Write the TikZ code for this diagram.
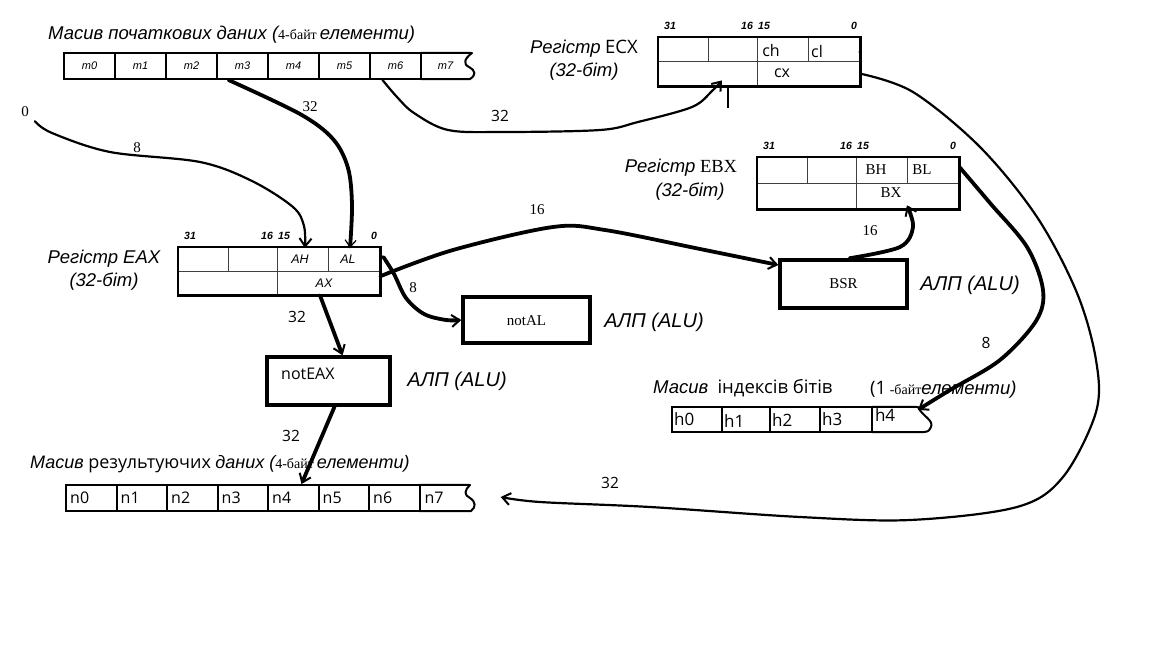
\documentclass[tikz,border=0pt]{standalone}
\usepackage{fontspec}
\setmainfont{Liberation Serif}
\newfontfamily\arf{Liberation Sans}
\newfontfamily\segf{Open Sans}
\usetikzlibrary{arrows.meta}
\tikzset{
  regbox/.style={minimum width=202pt, minimum height=#1, inner sep=0pt},
  regin/.style={line width=0.8pt, draw=black!75},
  regout/.style={line width=2.6pt},
  bitn/.style={inner sep=0pt, font=\arf\bfseries\itshape\fontsize{10.5}{12}\selectfont},
  cellm/.style={draw, line width=2pt, minimum width=51pt, minimum height=26pt, inner sep=0pt, font=\arf\itshape\fontsize{11}{13}\selectfont},
  celln/.style={draw, line width=2pt, minimum width=50.5pt, minimum height=26pt, inner sep=0pt},
  cellh/.style={draw, line width=2pt, minimum height=25pt, inner sep=0pt},
  opencell/.style={minimum height=26pt, inner sep=0pt},
  seglab/.style={inner sep=0pt, font=\segf\fontsize{16}{18}\selectfont},
  serlab/.style={inner sep=0pt, font=\rmfamily\fontsize{15}{17}\selectfont},
  itlab/.style={inner sep=0pt, font=\arf\itshape\fontsize{12.5}{14}\selectfont},
  bigit/.style={inner sep=0pt, font=\arf\itshape\fontsize{18.5}{21}\selectfont},
  alulab/.style={inner sep=0pt, font=\arf\itshape\fontsize{20}{22}\selectfont},
  alubox/.style={draw, line width=3.5pt, inner sep=0pt},
  numser/.style={inner sep=0pt, font=\rmfamily\fontsize{15}{17}\selectfont},
  numsan/.style={inner sep=0pt, font=\segf\fontsize{15.5}{17}\selectfont},
  wire/.style={line width=2.2pt, line cap=round, line join=round},
  thickwire/.style={line width=3.8pt, line cap=round, line join=round},
  barb/.style={-{Straight Barb[line width=2pt,length=8pt,width=12pt]}},
  thinbarb/.style={-{Straight Barb[line width=1.2pt,length=7pt,width=11pt]}},
  title/.style={inner sep=0pt, anchor=west, font=\fontsize{18.5}{21}\selectfont}
}
\newcommand\mkreg[4]{%
  \node[regbox=#4, anchor=north west] (#1) at (#2,#3) {};
  \draw[regin] (#1.west) -- (#1.east);
  \draw[regin] ([xshift=50pt]#1.north west) -- ([xshift=50pt]#1.west);
  \draw[regin] ([xshift=99pt]#1.north west) -- ([xshift=99pt]#1.south west);
  \draw[regin] ([xshift=150pt]#1.north west) -- ([xshift=150pt]#1.west);
  \draw[regout] (#1.north west) rectangle (#1.south east);
  \node[bitn] (#1-31) at ([xshift=12pt,yshift=11pt]#1.north west) {31};
  \node[bitn] (#1-16) at ([xshift=89pt,yshift=11pt]#1.north west) {16};
  \node[bitn] (#1-15) at ([xshift=106pt,yshift=11pt]#1.north west) {15};
  \node[bitn] (#1-0) at ([xshift=196pt,yshift=11pt]#1.north west) {0};
}
\begin{document}
\begin{tikzpicture}[x=1pt,y=-1pt]
\useasboundingbox[fill=white] (0,0) rectangle (1152,648);

% ---------- source array ----------
\node[title] (srctitle) at (48,35) {{\arf\itshape Масив початкових даних (}{\fontsize{14}{16}\selectfont 4-байт}\,{\arf\itshape елементи)}};
\foreach \i in {0,...,6} \node[cellm] (m\i) at ({89.5+51*\i},66) {m\i};
\node[opencell, minimum width=49pt, font=\arf\itshape\fontsize{11}{13}\selectfont] (m7) at (445.5,66) {m7};
\draw[line width=2pt, line join=round] (m7.north west) -- (472,53) .. controls (464,59) and (463,64) .. (469,67) .. controls (476,71) and (476,75) .. (470,79) -- (m7.south west);

% ---------- registers ----------
\mkreg{eax}{178}{247}{48pt}
\mkreg{ecx}{658}{37}{49pt}
\mkreg{ebx}{757}{157}{52pt}

\node[itlab] (ah) at (300,259) {AH};
\node[itlab] (al) at (348,259) {AL};
\node[itlab] (ax) at (324,283) {AX};
\node[bigit] (eaxname) at (104,259) {Регістр EAX};
\node[bigit] (eaxbits) at (104,282) {(32-біт)};

\node[seglab] (ch) at (771,50) {ch};
\node[seglab] (cl) at (817,51) {cl};
\node[seglab] (cx) at (782,73) {cx};
\node[inner sep=0pt, font=\fontsize{18.5}{21}\selectfont] (ecxname) at (584,49) {{\arf\itshape Регістр} {\segf ECX}};
\node[bigit] (ecxbits) at (584,72) {(32-біт)};
\fill (860,52) circle (1.6);

\node[serlab] (bh) at (876,170) {BH};
\node[serlab] (bl) at (922,170) {BL};
\node[serlab] (bx) at (891,193) {BX};
\node[inner sep=0pt, font=\fontsize{18.5}{21}\selectfont] (ebxname) at (681,168) {{\arf\itshape Регістр} {\rmfamily EBX}};
\node[bigit] (ebxbits) at (690,192) {(32-біт)};

% ---------- ALU boxes ----------
\node[alubox, minimum width=127pt, minimum height=46pt] (notal) at (526.5,320) {};
\node[serlab] (notaltxt) at (526.5,321) {notAL};
\node[alulab] (alu1) at (654,322) {АЛП (ALU)};

\node[alubox, minimum width=123pt, minimum height=48pt] (noteax) at (328.5,381) {};
\node[seglab, anchor=west] (noteaxtxt) at (281,374) {notEAX};
\node[alulab] (alu2) at (457,381) {АЛП (ALU)};

\node[alubox, minimum width=127pt, minimum height=48pt] (bsr) at (843.5,284) {};
\node[serlab] (bsrtxt) at (843.5,284) {BSR};
\node[alulab] (alu3) at (970,285) {АЛП (ALU)};

% ---------- bit index array ----------
\node[title] (bittitle) at (653,388) {{\arf\itshape Масив}\ \ {\segf індексів бітів}};
\node[title] (bittitle2) at (870,390) {{\segf (1}{\fontsize{14}{16}\selectfont\ -байт}{\arf\itshape елементи)}};
\node[cellh, minimum width=50pt] (h0) at (697,419.5) {};
\node[cellh, minimum width=48pt] (h1) at (746,419.5) {};
\node[cellh, minimum width=50pt] (h2) at (795,419.5) {};
\node[cellh, minimum width=52pt] (h3) at (846,419.5) {};
\node[opencell, minimum width=46pt, minimum height=25pt] (h4) at (895,419.5) {};
\draw[line width=2pt, line join=round] (h4.north west) -- (918,407) .. controls (922,416) and (934,420) .. (931,427) .. controls (929,432) and (926,432) .. (924,432) -- (h4.south west);
\node[seglab, anchor=west, font=\segf\fontsize{17}{19}\selectfont] at ([xshift=3pt]h0.west) {h0};
\node[seglab, anchor=west, font=\segf\fontsize{17}{19}\selectfont] at ([xshift=3pt,yshift=-2pt]h1.west) {h1};
\node[seglab, anchor=west, font=\segf\fontsize{17}{19}\selectfont] at ([xshift=3pt,yshift=-1pt]h2.west) {h2};
\node[seglab, anchor=west, font=\segf\fontsize{17}{19}\selectfont] at ([xshift=3pt]h3.west) {h3};
\node[seglab, anchor=west, font=\segf\fontsize{17}{19}\selectfont] at ([xshift=3pt,yshift=4pt]h4.west) {h4};

% ---------- result array ----------
\node[title, font=\fontsize{18}{21}\selectfont] (restitle) at (30,464) {{\arf\itshape Масив} {\segf результуючих} {\arf\itshape даних (}{\fontsize{14}{16}\selectfont 4-байт}\,{\arf\itshape елементи)}};
\foreach \i in {0,...,6} \node[celln] (n\i) at ({66+25.25+50.5*\i},498) {};
\node[opencell, minimum width=50pt] (n7) at (444.5,498) {};
\draw[line width=2pt, line join=round] (n7.north west) -- (470,485) .. controls (464,491) and (464,495) .. (470,498) .. controls (476,502) and (476,507) .. (471,511) -- (n7.south west);
\foreach \i in {0,...,7} \node[seglab, anchor=west] at ([xshift=5pt]n\i.west) {n\i};

% ---------- connectors ----------
\node[numser] (zero) at (25,112) {0};
\draw[wire, barb] plot[smooth, tension=0.55] coordinates {([xshift=6pt,yshift=-4pt]zero.south east) (52,133) (110,152) (200,162) (252,181) (293,207) (304,226) ([xshift=127pt,yshift=-1pt]eax.north west)};
\node[numser] (l8a) at (137,148) {8};

\draw[thickwire, thinbarb] plot[smooth, tension=0.55] coordinates {([xshift=-14pt]m3.south) (300,114) (333,139) (348,168) (352,205) ([xshift=172pt,yshift=-1pt]eax.north west)};
\node[numser] (l32a) at (310,107) {32};

\draw[wire, barb] plot[smooth, tension=0.55] coordinates {([xshift=-13pt]m6.south) (397,97) (414,113) (448,130) (503,132) (600,130) (638,122) (692,107) (712,91) ([xshift=64pt,yshift=6pt]ecx.south west)};
\draw[line width=2pt] ([xshift=70pt,yshift=-2pt]ecx.south west) -- ([xshift=70pt,yshift=-22pt]ecx.south west);
\node[numsan] (l32b) at (500,116) {32};

\draw[thickwire, barb] plot[smooth, tension=0.55] coordinates {([yshift=-5pt]eax.east) (453,250) (553,227) (605,230) (700,249) ([yshift=19pt]bsr.west)};
\node[numser] (l16a) at (537,210) {16};

\draw[thickwire, barb] plot[smooth, tension=0.55] coordinates {([xshift=3pt,yshift=-10pt]eax.north east) (394,274) (406,298) (424,314) (446,320) (notal.west)};
\node[numser] (l8b) at (413,288) {8};

\draw[thickwire, barb] ([xshift=142pt]eax.south west) -- ([xshift=14pt]noteax.north);
\node[numsan] (l32c) at (297,317) {32};

\draw[thickwire, barb] ([xshift=6pt]noteax.south) -- ([xshift=-18pt]n4.north east);
\node[numsan] (l32d) at (291,436) {32};

\draw[thickwire, barb] plot[smooth, tension=0.55] coordinates {([xshift=6pt]bsr.north) (900,247) (913,227) ([xshift=150pt,yshift=4pt]ebx.south west)};
\node[numser] (l16b) at (870,231) {16};

\draw[thickwire, barb] plot[smooth, tension=0.55] coordinates {([yshift=-10pt]ebx.north east) (990,203) (1027,247) (1043,290) (1036,321) (1000,360) (950,390) ([xshift=23pt,yshift=-3pt]h4.north)};
\node[numsan] (l8c) at (986,343) {8};

\draw[wire, barb] plot[smooth, tension=0.55] coordinates {([yshift=-12pt]ecx.east) (913,92) (980,147) (1037,217) (1077,293) (1096,360) (1096,412) (1063,477) (1017,507) (910,520) (800,517) (650,507) (540,502) ([xshift=31pt,yshift=1pt]n7.east)};
\node[numsan] (l32e) at (610,483) {32};
\end{tikzpicture}
\end{document}
